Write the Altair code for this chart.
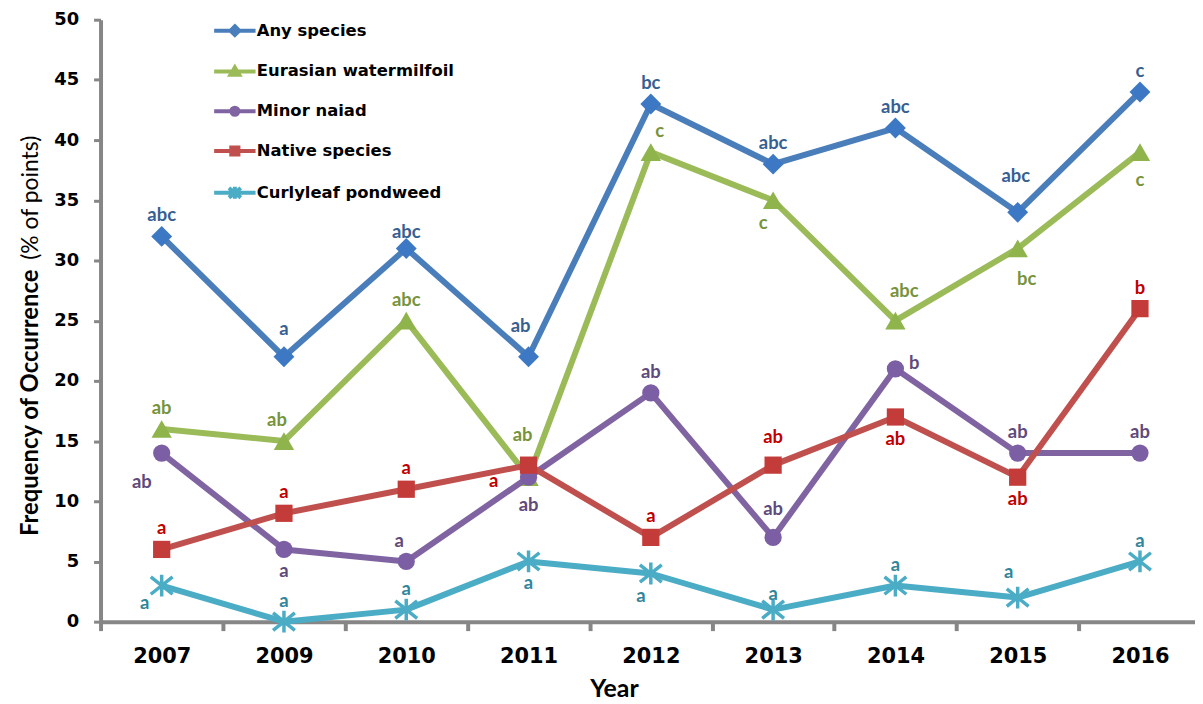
import altair as alt
import pandas as pd

# ---------------- data ----------------
years = ["2007", "2009", "2010", "2011", "2012", "2013", "2014", "2015", "2016"]
series_names = ["Any species", "Eurasian watermilfoil", "Minor naiad",
                "Native species", "Curlyleaf pondweed"]

any_species = [32, 22, 31, 22, 43, 38, 41, 34, 44]
eurasian_watermilfoil = [16, 15, 25, 12, 39, 35, 25, 31, 39]
minor_naiad = [14, 6, 5, 12, 19, 7, 21, 14, 14]
native_species = [6, 9, 11, 13, 7, 13, 17, 12, 26]
curlyleaf_pondweed = [3, 0, 1, 5, 4, 1, 3, 2, 5]

any_letters = ["abc", "a", "abc", "ab", "bc", "abc", "abc", "abc", "c"]
eurasian_letters = ["ab", "ab", "abc", "ab", "c", "c", "abc", "bc", "c"]
naiad_letters = ["ab", "a", "a", "ab", "ab", "ab", "b", "ab", "ab"]
native_letters = ["a", "a", "a", "a", "a", "ab", "ab", "ab", "b"]
curlyleaf_letters = ["a", "a", "a", "a", "a", "a", "a", "a", "a"]

# where each letter group sits relative to its marker (compass keys)
any_place = ["N", "N+", "N-", "NW", "N", "N", "N", "NN", "N"]
eurasian_place = ["N", "Nw", "N", "NNW", "NE", "Sw", "NE+", "SE", "S+"]
naiad_place = ["SW", "S", "Nw", "S+", "N", "N+", "E", "N", "N"]
native_place = ["N", "N", "N", "W", "N", "N+", "S", "S", "N"]
curlyleaf_place = ["WSW", "N", "N", "S", "Sw", "N-", "N", "Nw+", "N"]

# ---------------- styles ----------------
place_offsets = {
    "N": (0, -21), "N+": (0, -28), "N-": (0, -16), "NN": (-2, -36),
    "NW": (-8, -31), "Nw": (-7, -21), "Nw+": (-9, -26), "NNW": (-6, -42),
    "NE": (9, -21), "NE+": (9, -30),
    "S": (0, 22), "S+": (0, 28), "SW": (-20, 29), "Sw": (-10, 23),
    "WSW": (-17, 18), "SE": (9, 31), "E": (19, -6), "W": (-35, 16),
}
line_colors = ["#4A7EBB", "#9BBB59", "#8064A2", "#C0504D", "#4BACC6"]
marker_colors = ["#3C78C3", "#8EB44B", "#7B5EA4", "#C43C39", "#4BACC6"]
label_colors = ["#376092", "#77933C", "#604A7B", "#C00000", "#31859C"]
asterisk = "M0,-1L0,1M-1,-0.8L1,0.8M-1,0.8L1,-0.8"
marker_shapes = ["diamond", "triangle-up", "circle", "square", asterisk]
marker_sizes = [441, 420, 300, 300, 480]
legend_paths = [
    "M-2.6,0L2.6,0M0,-0.55L0.55,0L0,0.55L-0.55,0Z",
    "M-2.6,0L2.6,0M0,-0.5L0.55,0.42L-0.55,0.42Z",
    "M-2.6,0L2.6,0M-0.45,0A0.45,0.45 0 1,0 0.45,0A0.45,0.45 0 1,0 -0.45,0Z",
    "M-2.6,0L2.6,0M-0.45,-0.45L0.45,-0.45L0.45,0.45L-0.45,0.45Z",
    "M-2.6,0L2.6,0M0,-0.75L0,0.75M-0.75,-0.6L0.75,0.6M-0.75,0.6L0.75,-0.6",
]

all_vals = [any_species, eurasian_watermilfoil, minor_naiad, native_species, curlyleaf_pondweed]
all_letters = [any_letters, eurasian_letters, naiad_letters, native_letters, curlyleaf_letters]
all_places = [any_place, eurasian_place, naiad_place, native_place, curlyleaf_place]

rows = []
for s, vals, lets, places in zip(series_names, all_vals, all_letters, all_places):
    for i, (yr, v, l, p) in enumerate(zip(years, vals, lets, places)):
        rows.append({"series": s, "idx": i, "year": yr, "value": v, "letter": l, "place": p})
df = pd.DataFrame(rows)

GRAY = "#868686"
year_array = "[" + ",".join("'%s'" % y for y in years) + "]"

x_enc = alt.X(
    "idx:Q",
    scale=alt.Scale(domain=[-0.5, 8.45], nice=False, zero=False),
    axis=alt.Axis(
        values=[i - 0.5 for i in range(len(years))],
        labelExpr=year_array + "[round(datum.value + 0.5)]",
        labelOffset=61.5, labelFlush=False, labelOverlap=False, labelBound=False,
        grid=False, domainColor=GRAY, domainWidth=4, tickColor=GRAY,
        tickWidth=4, tickSize=9, labelFont="DejaVu Sans", labelFontWeight="bold",
        labelFontSize=21, labelColor="black", labelBaseline="middle", labelPadding=26,
        title="Year", titleFont="Lato", titleFontWeight="bold", titleFontSize=25,
        titleColor="black", titleX=516, titleY=67, titleBaseline="middle",
        titleAlign="center", titleAnchor="start",
    ),
)
y_enc = alt.Y(
    "value:Q",
    scale=alt.Scale(domain=[0, 50], nice=False),
    axis=alt.Axis(
        values=list(range(0, 51, 5)), grid=False, domainColor=GRAY, domainWidth=4,
        tickColor=GRAY, tickWidth=3, tickSize=7, labelFont="DejaVu Sans",
        labelFontWeight="bold", labelFontSize=18, labelColor="black",
        labelPadding=15, title=None,
    ),
)

legend = alt.Legend(
    title=None, orient="none", legendX=125, legendY=1, padding=0,
    labelFont="DejaVu Sans", labelFontWeight="bold", labelFontSize=16.5,
    labelColor="black", labelOffset=12, labelLimit=400, symbolSize=256, rowPadding=16,
    symbolStrokeWidth=4, symbolOpacity=1,
)
color_scale = alt.Scale(domain=series_names, range=line_colors)

base = alt.Chart(df)
layers = []
for k, s in enumerate(series_names):
    sub = base.transform_filter(alt.datum.series == s)
    layers.append(sub.mark_line(strokeWidth=6, strokeJoin="round",
                                color=line_colors[k]).encode(x=x_enc, y=y_enc))
    filled = k != 4
    pt = sub.mark_point(shape=marker_shapes[k], size=marker_sizes[k], filled=filled,
                        color=marker_colors[k], opacity=1,
                        strokeWidth=(0 if filled else 3.5))
    layers.append(pt.encode(x=x_enc, y=y_enc))

for k, s in enumerate(series_names):
    for p in sorted(set(all_places[k])):
        dx, dy = place_offsets[p]
        t = base.transform_filter(
            "datum.series === '%s' && datum.place === '%s'" % (s, p)
        ).mark_text(dx=dx, dy=dy, font="Lato", fontWeight="bold", fontSize=18.5,
                    color=label_colors[k], align="center", baseline="middle")
        layers.append(t.encode(x=x_enc, y=y_enc, text="letter:N"))

# legend-only layer (no marks drawn; the legend comes from its encodings)
legend_layer = base.transform_filter("false").mark_point(
    filled=True, opacity=1, strokeWidth=4, size=256).encode(
    x=x_enc, y=y_enc,
    fill=alt.Fill("series:N", scale=color_scale, legend=legend),
    stroke=alt.Stroke("series:N", scale=color_scale, legend=legend),
    shape=alt.Shape("series:N", scale=alt.Scale(domain=series_names, range=legend_paths),
                    legend=legend),
)
layers.append(legend_layer)

title_bold = alt.Chart(pd.DataFrame({"t": ["Frequency of Occurrence"]})).mark_text(
    angle=270, font="Lato", fontWeight="bold", fontSize=24, color="black",
    align="center", baseline="middle").encode(
    x=alt.value(-70), y=alt.value(385), text="t:N")
title_reg = alt.Chart(pd.DataFrame({"t": ["(% of points)"]})).mark_text(
    angle=270, font="Lato", fontSize=23, color="black",
    align="center", baseline="middle").encode(
    x=alt.value(-70), y=alt.value(179), text="t:N")
layers += [title_bold, title_reg]

chart = alt.layer(*layers).properties(
    width=1100, height=605,
    autosize=alt.AutoSizeParams(type="none"),
    padding={"left": 93, "top": 10, "right": 0, "bottom": 80},
    background="white",
).configure_view(stroke=None)

chart.save("out.html", embed_options={"renderer": "svg", "actions": False})
